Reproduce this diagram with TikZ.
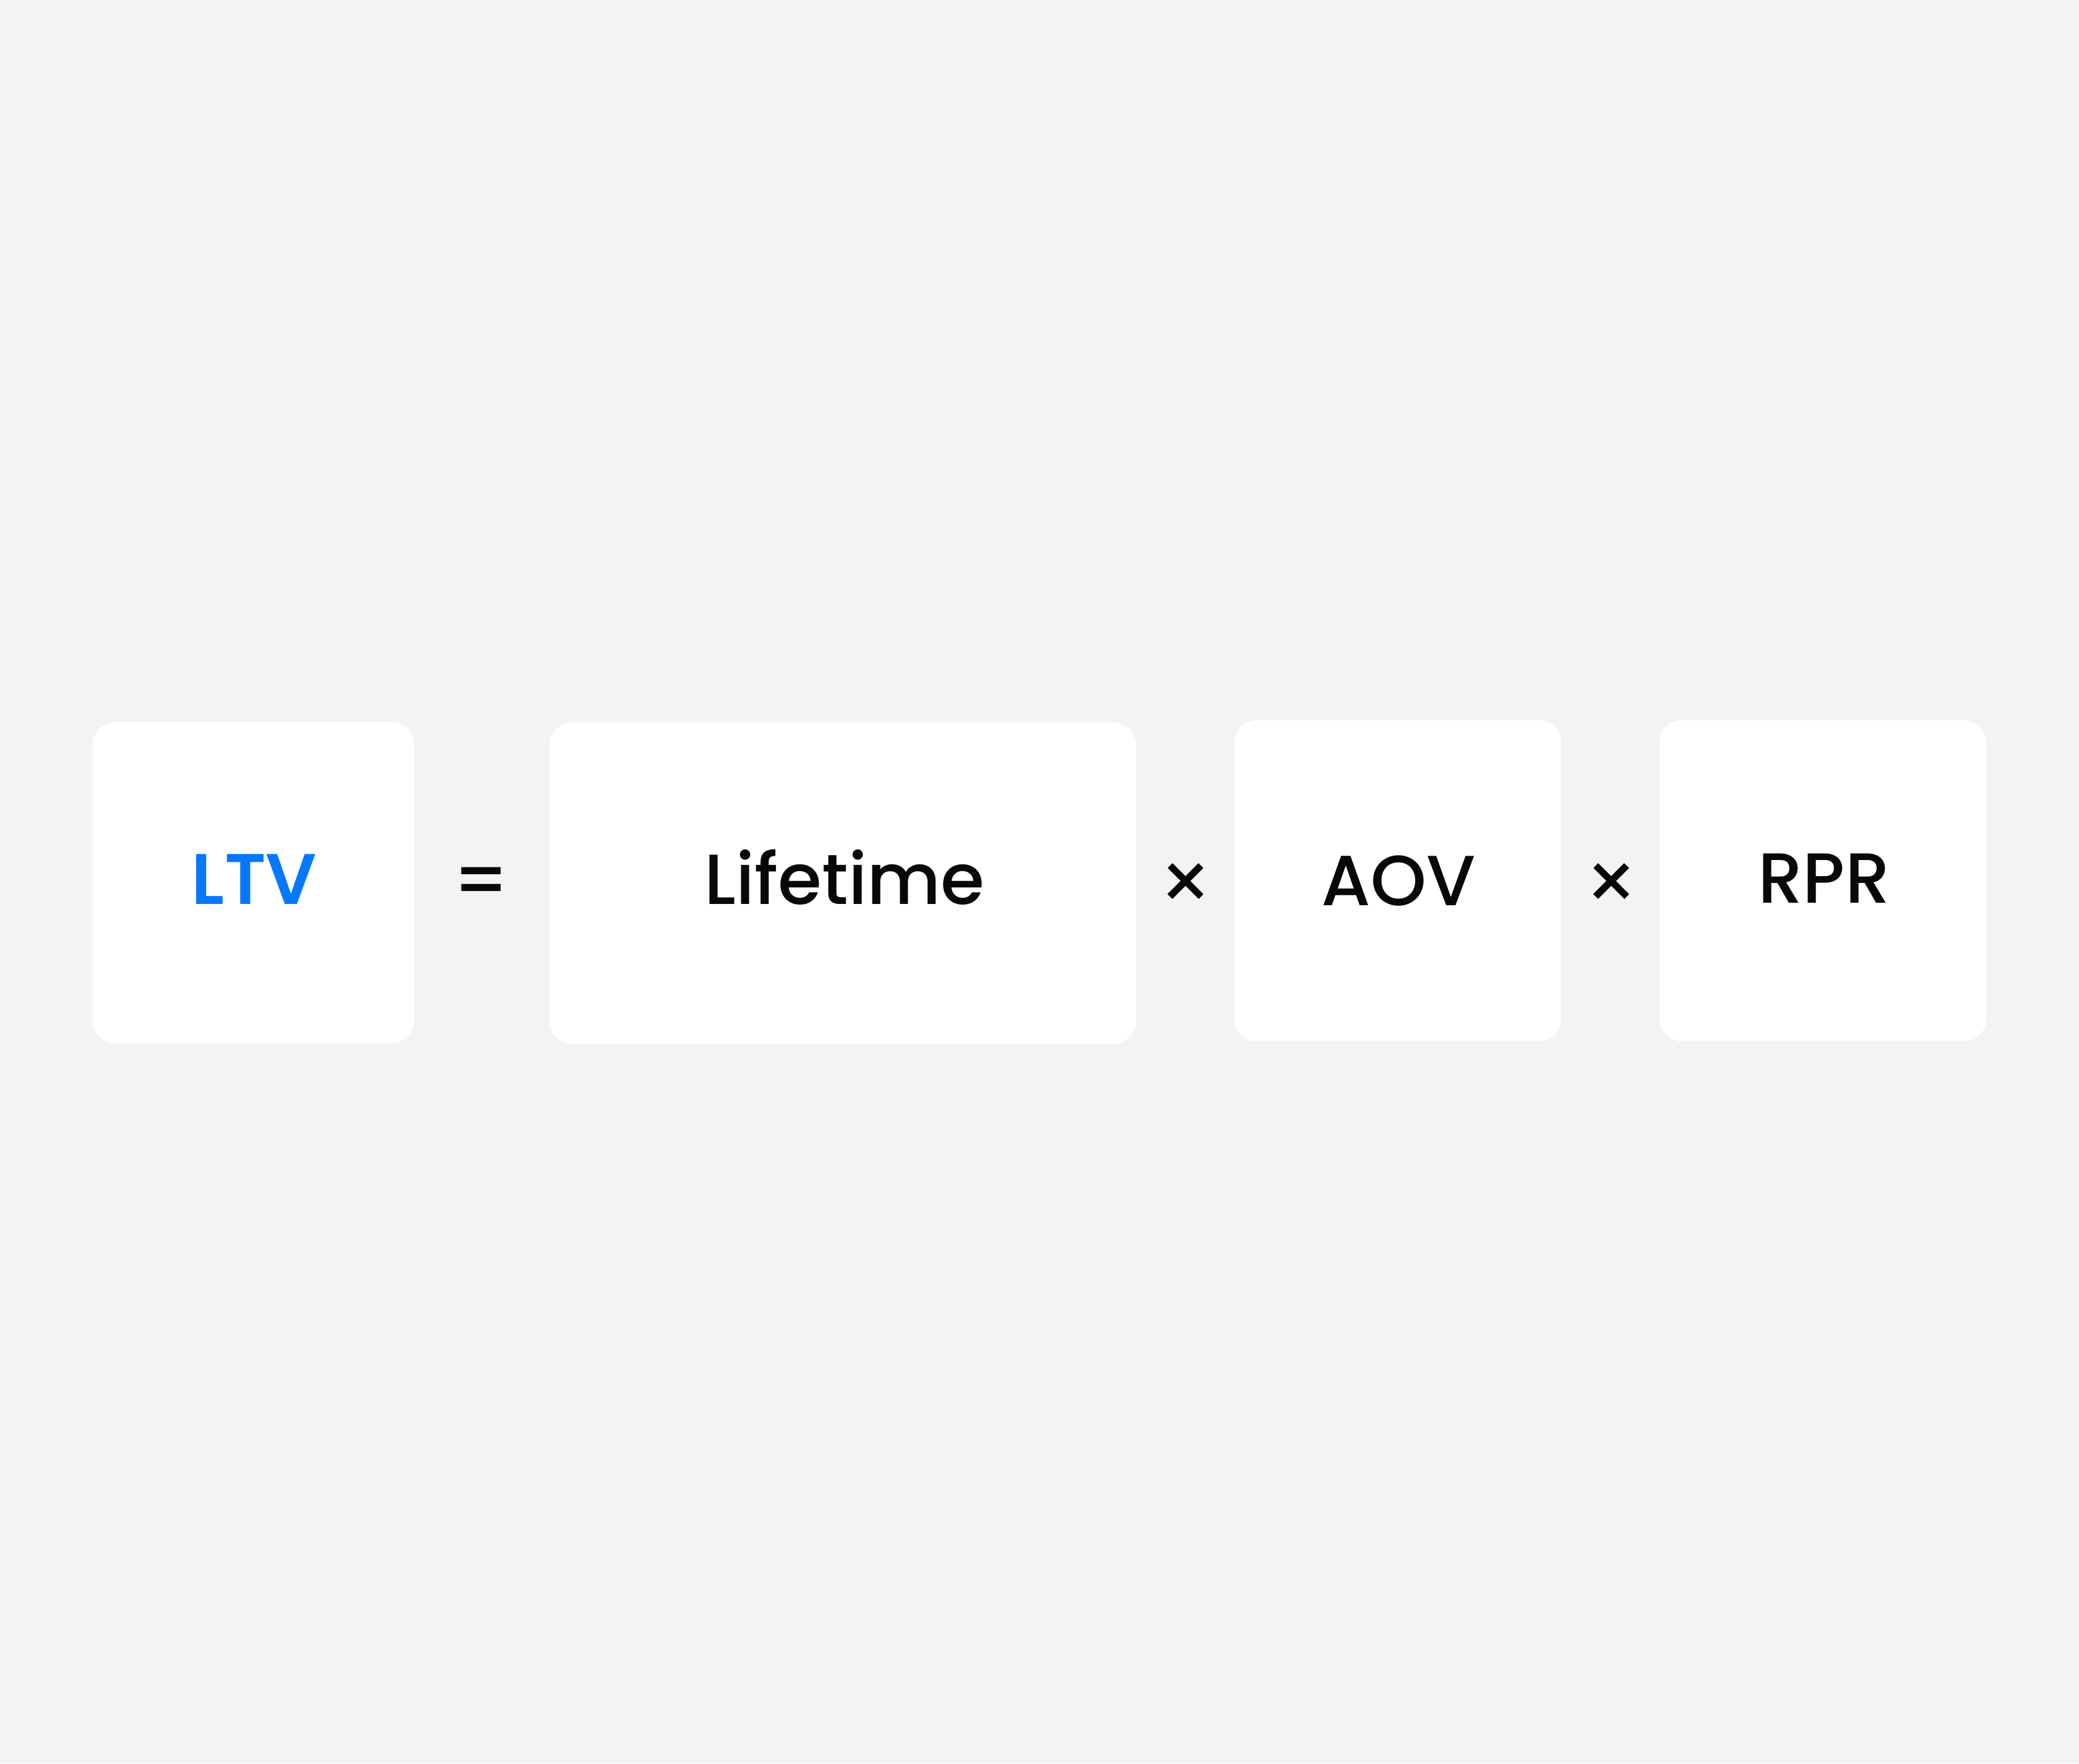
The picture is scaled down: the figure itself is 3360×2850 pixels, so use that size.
\documentclass[tikz,border=0pt]{standalone}
\usepackage{fontspec}
\setmainfont{Poppins Medium}
\newfontfamily\semib{Poppins SemiBold}
\newfontfamily\regf{Poppins}
\definecolor{bg}{HTML}{F2F3F5}
\definecolor{ltvblue}{HTML}{0678FF}
\definecolor{ink}{HTML}{080808}
\begin{document}
\begin{tikzpicture}[x=0.01cm,y=-0.01cm,
  card/.style={fill=white,draw=none,rounded corners=0.36cm},
  lbl/.style={anchor=base,inner sep=0pt,text=ink,font=\fontsize{32.6pt}{36pt}\selectfont},
  op/.style={anchor=center,inner sep=0pt,text=ink,font=\fontsize{32.9pt}{36pt}\selectfont}]
\fill[bg] (0,0) rectangle (3360,2850);
\useasboundingbox (0,0) rectangle (3360,2850);
\draw[card] (150,1167) rectangle (669,1686);
\draw[card] (888,1168) rectangle (1836,1687);
\draw[card] (1995,1164) rectangle (2523,1683);
\draw[card] (2682,1164) rectangle (3210,1683);
\node[lbl,text=ltvblue,font=\semib\fontsize{32.9pt}{36pt}\selectfont] (ltv) at (411,1461) {LTV};
\node[lbl] (life) at (1365,1461) {Lifetime};
\node[lbl] (aov) at (2260,1463) {AOV};
\node[lbl] (rpr) at (2948,1459) {RPR};
\node[op,font=\fontsize{34pt}{36pt}\selectfont] (eq) at (778,1433) {=};
\node[op,font=\regf\fontsize{38pt}{40pt}\selectfont] (x1) at (1916,1434) {×};
\node[op,font=\regf\fontsize{38pt}{40pt}\selectfont] (x2) at (2604,1434) {×};
\end{tikzpicture}
\end{document}
